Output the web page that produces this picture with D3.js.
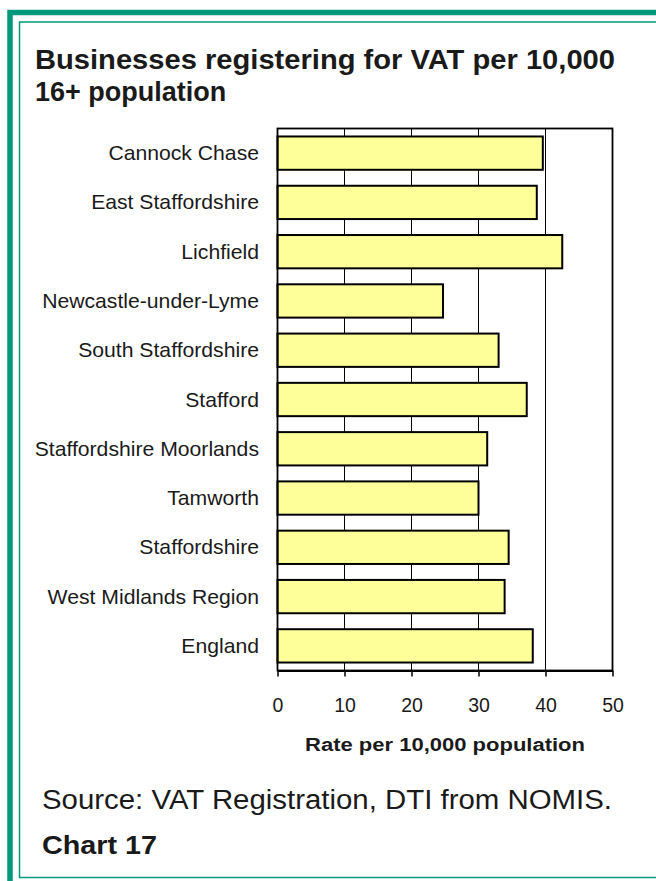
<!DOCTYPE html>
<html>
<head>
<meta charset="utf-8">
<script src="https://cdn.jsdelivr.net/npm/d3@7"></script>
<style>
  html, body { margin: 0; padding: 0; background: #fff; }
  svg { display: block; }
  text { font-family: "Liberation Sans", Arial, sans-serif; fill: #1a1a1a; }
</style>
</head>
<body>
<svg id="chart" width="656" height="881"></svg>
<script>
const titleLines = ["Businesses registering for VAT per 10,000", "16+ population"];
const categories = ["Cannock Chase", "East Staffordshire", "Lichfield", "Newcastle-under-Lyme",
  "South Staffordshire", "Stafford", "Staffordshire Moorlands", "Tamworth",
  "Staffordshire", "West Midlands Region", "England"];
const values = [39.6, 38.7, 42.5, 24.7, 33.0, 37.2, 31.3, 30.0, 34.5, 33.9, 38.1];
const xTicks = [0, 10, 20, 30, 40, 50];
const xAxisTitle = "Rate per 10,000 population";
const sourceText = "Source: VAT Registration, DTI from NOMIS.";
const chartLabel = "Chart 17";

const svg = d3.select("#chart");
const green = "#00997b";

// frame borders
svg.append("path").attr("d", "M10,900 V12.5 H700")
  .attr("fill", "none").attr("stroke", green).attr("stroke-width", 5.5);
svg.append("rect").attr("x", 19.5).attr("y", 22).attr("width", 700).attr("height", 855.5)
  .attr("fill", "none").attr("stroke", green).attr("stroke-width", 1.5);

// title
svg.append("g").selectAll("text").data(titleLines).join("text")
  .attr("x", 35).attr("y", (d, i) => 69 + i * 32)
  .attr("font-size", 27).attr("font-weight", "bold")
  .attr("data-w", (d, i) => i === 0 ? 580 : null)
  .text(d => d);

const x = d3.scaleLinear().domain([0, 50]).range([277.5, 612.5]);
const y = d3.scaleBand().domain(categories).range([128.5, 670.5])
  .paddingInner(0.324).paddingOuter(0.162);

// gridlines
svg.append("g").selectAll("line").data(xTicks.slice(1, -1)).join("line")
  .attr("x1", d => x(d)).attr("x2", d => x(d))
  .attr("y1", 128.5).attr("y2", 670.5)
  .attr("stroke", "#000").attr("stroke-width", 1);

// bars
svg.append("g").selectAll("rect").data(values).join("rect")
  .attr("x", x(0))
  .attr("y", (d, i) => y(categories[i]))
  .attr("width", d => x(d) - x(0))
  .attr("height", y.bandwidth())
  .attr("fill", "#ffff99").attr("stroke", "#000").attr("stroke-width", 2);

// plot frame
svg.append("rect").attr("x", 277.5).attr("y", 128.5).attr("width", 335).attr("height", 542)
  .attr("fill", "none").attr("stroke", "#000").attr("stroke-width", 1.8);

// x axis
const xAxis = svg.append("g").attr("transform", "translate(0,670.5)")
  .call(d3.axisBottom(x).tickValues(xTicks).tickSize(6).tickSizeOuter(0).tickPadding(22).tickFormat(d3.format("d")));
xAxis.select(".domain").attr("stroke", "#000").attr("stroke-width", 1.8);
xAxis.selectAll(".tick line").attr("stroke", "#000").attr("stroke-width", 1.5);
xAxis.selectAll(".tick text").attr("font-size", 19.5)
  .attr("font-family", "'Liberation Sans', Arial, sans-serif").attr("fill", "#1a1a1a");

// category labels
svg.append("g").selectAll("text").data(categories).join("text")
  .attr("x", 259).attr("y", d => y(d) + y.bandwidth() / 2 + 7)
  .attr("text-anchor", "end").attr("font-size", 19.8)
  .attr("class", "wide")
  .text(d => d);

// axis title
svg.append("text").attr("x", 445).attr("y", 751).attr("text-anchor", "middle")
  .attr("font-size", 17.5).attr("font-weight", "bold")
  .attr("data-w", 280)
  .text(xAxisTitle);

// source
svg.append("text").attr("x", 42).attr("y", 809).attr("font-size", 27)
  .attr("data-w", 570).text(sourceText);
svg.append("text").attr("x", 42).attr("y", 854).attr("font-size", 25.5).attr("font-weight", "bold")
  .attr("data-w", 115).text(chartLabel);

svg.selectAll("text.wide").each(function() {
  this.setAttribute("data-w", this.getComputedTextLength() * 1.07);
});
svg.selectAll("text[data-w]").each(function() {
  d3.select(this).attr("textLength", +this.getAttribute("data-w")).attr("lengthAdjust", "spacingAndGlyphs");
});
</script>
</body>
</html>
